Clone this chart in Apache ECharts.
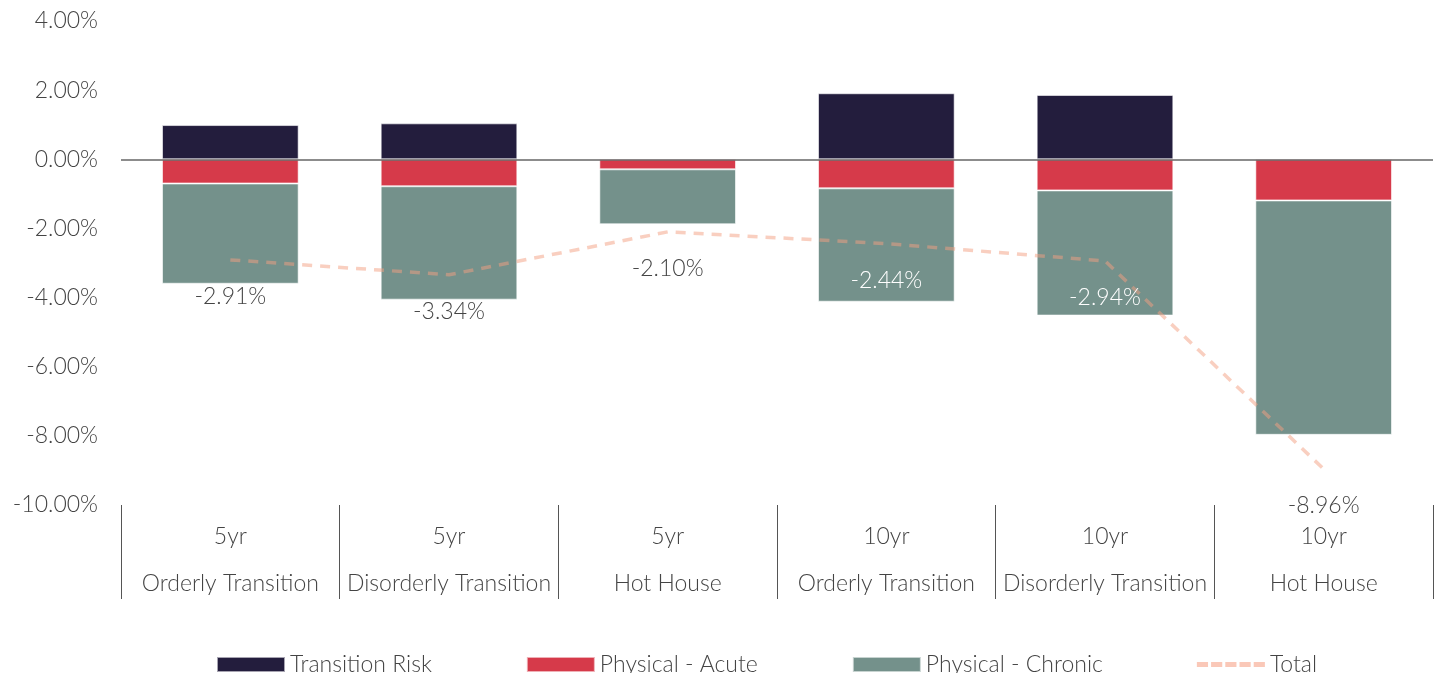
<!DOCTYPE html>
<html>
<head>
<meta charset="utf-8">
<script src="https://cdn.jsdelivr.net/npm/echarts@6/dist/echarts.min.js"></script>
<style>
  html, body { margin: 0; padding: 0; background: #fff; }
  #chart { width: 1440px; height: 673px; }
</style>
</head>
<body>
<div id="chart"></div>
<script>
const categories = [
  '5yr\nOrderly Transition',
  '5yr\nDisorderly Transition',
  '5yr\nHot House',
  '10yr\nOrderly Transition',
  '10yr\nDisorderly Transition',
  '10yr\nHot House'
];
const transitionRisk = [0.99, 1.04, 0, 1.91, 1.86, 0];
const physicalAcute = [-0.70, -0.78, -0.29, -0.84, -0.90, -1.19];
const physicalChronic = [-2.90, -3.28, -1.59, -3.28, -3.62, -6.78];
const total = [-2.91, -3.34, -2.10, -2.44, -2.94, -8.96];
// labels that sit inside a bar are white
const totalLabelColors = ['#444', '#444', '#444', '#fff', '#fff', '#444'];

const FONT = 'Lato, "Noto Sans", sans-serif';
const FS = 23;
const LINE_COLOR = 'rgba(244,160,130,0.5)';
// five short dashes for the Total legend icon
const DASH_ICON = 'path://M0,0h11v5h-11z M14,0h11v5h-11z M28,0h11v5h-11z M42,0h11v5h-11z M56,0h11v5h-11z';

const chart = echarts.init(document.getElementById('chart'));

const barBorder = { borderColor: 'rgba(255,255,255,0.6)', borderWidth: 1 };

const option = {
  animation: false,
  textStyle: { fontFamily: FONT, fontWeight: 300 },
  grid: { left: 121, right: 7, top: 21, bottom: 168 },
  legend: {
    bottom: -8,
    left: 211,
    itemWidth: 68,
    itemHeight: 15,
    itemGap: 94,
    textStyle: { fontSize: FS, color: '#444', fontFamily: FONT, fontWeight: 300 },
    data: [
      { name: 'Transition Risk', icon: 'rect' },
      { name: 'Physical - Acute', icon: 'rect' },
      { name: 'Physical - Chronic', icon: 'rect' },
      { name: 'Total', icon: DASH_ICON, itemStyle: { color: 'rgba(250,200,184,1)' } }
    ]
  },
  xAxis: {
    type: 'category',
    data: categories,
    axisLine: { show: false, onZero: false },
    axisTick: { show: true, length: 94, lineStyle: { color: '#555', width: 1 } },
    axisLabel: {
      fontSize: FS,
      color: '#444',
      lineHeight: 47,
      margin: 8,
      interval: 0,
      fontFamily: FONT,
      fontWeight: 300
    }
  },
  yAxis: {
    type: 'value',
    min: -10,
    max: 4,
    interval: 2,
    splitLine: { show: false },
    axisLine: { show: false },
    axisTick: { show: false },
    axisLabel: {
      fontSize: FS,
      color: '#444',
      margin: 23,
      fontFamily: FONT,
      fontWeight: 300,
      formatter: v => v.toFixed(2) + '%'
    }
  },
  series: [
    {
      name: 'Transition Risk',
      type: 'bar',
      stack: 'risk',
      barWidth: '62.5%',
      itemStyle: Object.assign({ color: '#231d3d' }, barBorder),
      data: transitionRisk,
      markLine: {
        silent: true,
        symbol: 'none',
        label: { show: false },
        lineStyle: { color: '#666', type: 'solid', width: 1.5 },
        data: [{ yAxis: 0 }],
        z: 5
      }
    },
    {
      name: 'Physical - Acute',
      type: 'bar',
      stack: 'risk',
      barWidth: '62.5%',
      itemStyle: Object.assign({ color: '#d63a4a' }, barBorder),
      data: physicalAcute
    },
    {
      name: 'Physical - Chronic',
      type: 'bar',
      stack: 'risk',
      barWidth: '62.5%',
      itemStyle: Object.assign({ color: '#74918b' }, barBorder),
      data: physicalChronic
    },
    {
      name: 'Total',
      type: 'line',
      symbol: 'circle',
      symbolSize: 1,
      showSymbol: true,
      z: 10,
      lineStyle: { color: LINE_COLOR, width: 3.5, type: [10, 8] },
      itemStyle: { color: 'rgba(0,0,0,0)' },
      data: total.map((v, i) => ({
        value: v,
        label: {
          show: true,
          position: 'bottom',
          distance: 25,
          fontSize: FS,
          fontFamily: FONT,
          fontWeight: 300,
          color: totalLabelColors[i],
          formatter: p => p.value.toFixed(2) + '%'
        }
      }))
    }
  ]
};

chart.setOption(option);
</script>
</body>
</html>
